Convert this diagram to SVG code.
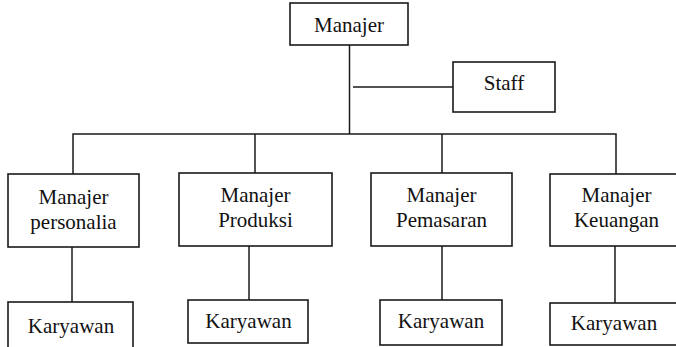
<svg xmlns="http://www.w3.org/2000/svg" width="676" height="347" viewBox="0 0 676 347">
<style>
.box{fill:#fff;stroke:#1a1a1a;stroke-width:1.6}
.ln{fill:none;stroke:#1a1a1a;stroke-width:1.5}
text{font-family:"Liberation Serif","Times New Roman",serif;font-size:21px;fill:#111;text-anchor:middle}
</style>
<rect width="676" height="347" fill="#fff"/>
<g id="connectors">
<path class="ln" d="M349.5 45 V134"/>
<path class="ln" d="M353 87 H453"/>
<path class="ln" d="M73 174 V134 H616 V174"/>
<path class="ln" d="M255 134 V173"/>
<path class="ln" d="M442 134 V173"/>
<path class="ln" d="M72 247 V302"/>
<path class="ln" d="M249 246 V300"/>
<path class="ln" d="M442 246 V300"/>
<path class="ln" d="M615 246 V303"/>
</g>
<g id="manajer"><rect class="box" x="290" y="3" width="118" height="42"/><text x="349" y="32">Manajer</text></g>
<g id="staff"><rect class="box" x="453" y="62" width="102" height="50"/><text x="504" y="90">Staff</text></g>
<g id="personalia"><rect class="box" x="8" y="174" width="131" height="73"/><text x="73.5" y="204">Manajer</text><text x="73.5" y="229">personalia</text></g>
<g id="produksi"><rect class="box" x="179" y="173" width="153" height="73"/><text x="255.5" y="202">Manajer</text><text x="255.5" y="227">Produksi</text></g>
<g id="pemasaran"><rect class="box" x="371" y="173" width="141" height="73"/><text x="441.5" y="202">Manajer</text><text x="441.5" y="227">Pemasaran</text></g>
<g id="keuangan"><rect class="box" x="550" y="174" width="133" height="72"/><text x="616.5" y="202">Manajer</text><text x="616.5" y="227">Keuangan</text></g>
<g id="karyawan1"><rect class="box" x="8" y="302" width="125" height="50"/><text x="71" y="333">Karyawan</text></g>
<g id="karyawan2"><rect class="box" x="188" y="300" width="120" height="43"/><text x="248.5" y="328">Karyawan</text></g>
<g id="karyawan3"><rect class="box" x="380" y="300" width="122" height="45"/><text x="441" y="328">Karyawan</text></g>
<g id="karyawan4"><rect class="box" x="550" y="303" width="130" height="42"/><text x="614" y="330">Karyawan</text></g>
</svg>
